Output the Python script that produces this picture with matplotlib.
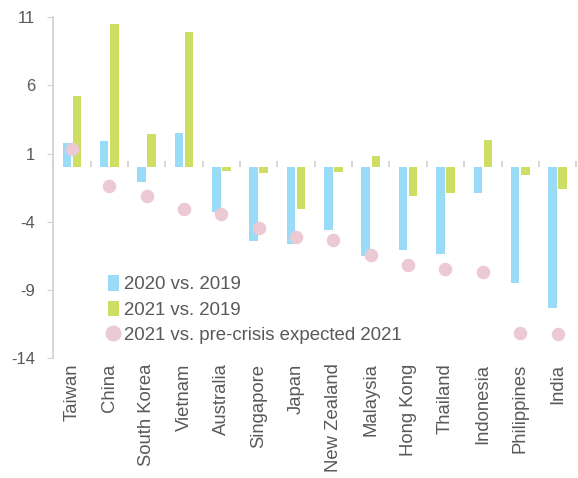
import matplotlib
matplotlib.use("Agg")
import matplotlib.pyplot as plt
import numpy as np
from matplotlib.lines import Line2D
from matplotlib.patches import Patch

plt.rcParams['font.family'] = ['Liberation Sans', 'DejaVu Sans']
plt.rcParams['axes.unicode_minus'] = False

countries = ["Taiwan", "China", "South Korea", "Vietnam", "Australia", "Singapore", "Japan",
             "New Zealand", "Malaysia", "Hong Kong", "Thailand", "Indonesia", "Philippines", "India"]
v2020 = [1.8, 1.9, -1.1, 2.5, -3.3, -5.4, -5.6, -4.6, -6.5, -6.1, -6.4, -1.9, -8.5, -10.3]
v2021 = [5.2, 10.5, 2.4, 9.9, -0.25, -0.45, -3.1, -0.35, 0.8, -2.15, -1.9, 2.0, -0.6, -1.6]
v_exp = [1.3, -1.35, -2.15, -3.1, -3.4, -4.45, -5.1, -5.35, -6.45, -7.15, -7.45, -7.7, -12.2, -12.25]
yticks = [11, 6, 1, -4, -9, -14]

blue = "#9ADCF8"
green = "#CEDD63"
pink = "#EBCAD5"
grey = "#D0D0D0"
txt = "#595959"

fig = plt.figure(figsize=(5.78, 4.78), dpi=100)
ax = fig.add_axes([0.092, 0.251, 0.905, 0.713])

x = np.arange(len(countries))
w = 0.23
ax.bar(x - 0.135, v2020, width=w, color=blue, zorder=2)
ax.bar(x + 0.135, v2021, width=w, color=green, zorder=2)
ax.scatter(x, v_exp, s=95, color=pink, zorder=3, linewidths=0)

ax.set_xlim(-0.5, len(countries) - 0.5)
ax.set_ylim(-14, 11)
ax.set_yticks(yticks)
ax.tick_params(axis='y', colors=grey, labelcolor=txt, labelsize=12, length=4, pad=9)
ax.set_xticks(x)
ax.set_xticklabels(countries, rotation=90, fontsize=13.3, color=txt)
ax.tick_params(axis='x', length=0, pad=4)

for s in ['top', 'right', 'bottom']:
    ax.spines[s].set_visible(False)
ax.spines['left'].set_color(grey)
ax.spines['left'].set_linewidth(1.2)

# zero line with tick marks between categories
zero = ax.secondary_xaxis(14 / 25)
zero.set_xticks(np.arange(len(countries) + 1) - 0.5, labels=[])
zero.tick_params(axis='x', direction='out', length=4, colors=grey, width=1.2)
zero.spines['bottom'].set_color(grey)
zero.spines['bottom'].set_linewidth(1.5)
for s in ['top', 'left', 'right']:
    zero.spines[s].set_visible(False)

handles = [
    Patch(facecolor=blue, label="2020 vs. 2019"),
    Patch(facecolor=green, label="2021 vs. 2019"),
    Line2D([], [], marker='o', linestyle='none', markersize=10.5, color=pink, label="2021 vs. pre-crisis expected 2021"),
]
leg = ax.legend(handles=handles, loc='upper left', bbox_to_anchor=(0.09, 0.265), frameon=False,
                fontsize=13.4, handlelength=0.6, handleheight=0.9, handletextpad=0.25,
                labelspacing=0.4, borderaxespad=0)
for t in leg.get_texts():
    t.set_color(txt)

fig.savefig("out.png", dpi=100)
